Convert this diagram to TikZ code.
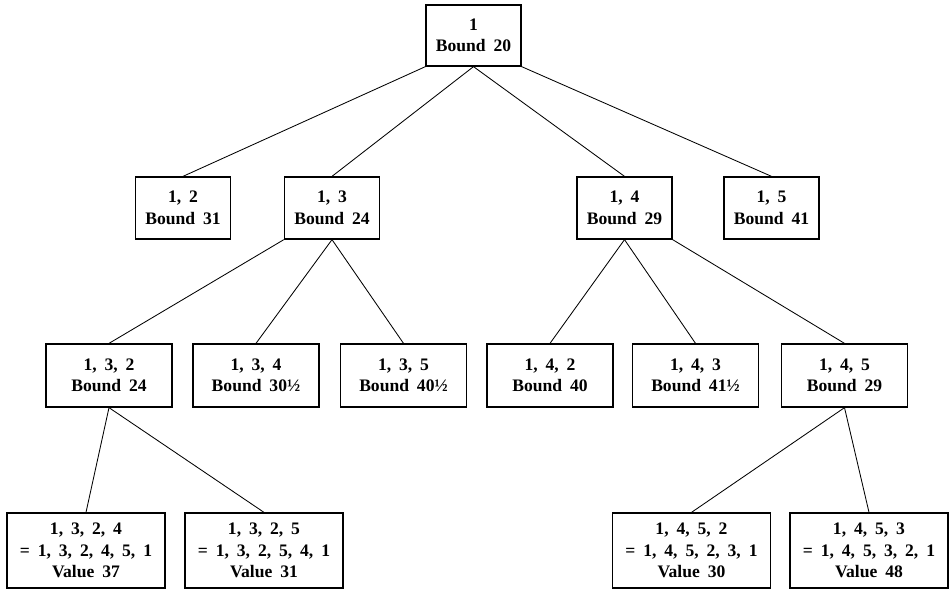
\documentclass[tikz,border=0pt]{standalone}
\usepackage{fontspec}
\setmainfont{Liberation Serif}
\usepackage{tikz}
\usetikzlibrary{positioning}
\newcommand{\boxfont}{\bfseries\fontsize{12.5}{15.3}\selectfont\spaceskip=0.45em\relax}
\tikzset{
  bbox/.style={rectangle, draw=black, line width=0.9pt, inner sep=0pt, align=center,
    font=\boxfont},
  topbox/.style={bbox, minimum width=2.375cm, minimum height=1.525cm},
  midbox/.style={bbox, minimum width=2.375cm, minimum height=1.55cm},
  lowbox/.style={bbox, minimum width=3.15cm, minimum height=1.575cm},
  leafbox/.style={bbox, minimum width=3.95cm, minimum height=1.875cm},
  link/.style={line width=0.6pt}
}
\begin{document}
\begin{tikzpicture}[x=0.025cm, y=-0.025cm]
    \useasboundingbox (0,0) rectangle (952,591);

    % raiz
    \node[topbox] (r) at (473.5, 35.5) {1\\Bound 20};

    % primer nivel
    \node[midbox] (n12) at (183, 208) {1, 2\\Bound 31};
    \node[midbox] (n13) at (332, 208) {1, 3\\Bound 24};
    \node[midbox] (n14) at (624.5, 208) {1, 4\\Bound 29};
    \node[midbox] (n15) at (771.5, 208) {1, 5\\Bound 41};

    % segundo nivel
    \node[lowbox] (n132) at (109, 375.5) {1, 3, 2\\Bound 24};
    \node[lowbox] (n134) at (256, 375.5) {1, 3, 4\\Bound 30½};
    \node[lowbox] (n135) at (403.5, 375.5) {1, 3, 5\\Bound 40½};
    \node[lowbox] (n142) at (550, 375.5) {1, 4, 2\\Bound 40};
    \node[lowbox] (n143) at (695.5, 375.5) {1, 4, 3\\Bound 41½};
    \node[lowbox] (n145) at (844.5, 375.5) {1, 4, 5\\Bound 29};

    % hojas
    \node[leafbox] (n1324) at (86, 550.5) {1, 3, 2, 4\\= 1, 3, 2, 4, 5, 1\\Value 37};
    \node[leafbox] (n1325) at (264, 550.5) {1, 3, 2, 5\\= 1, 3, 2, 5, 4, 1\\Value 31};
    \node[leafbox] (n1452) at (691.5, 550.5) {1, 4, 5, 2\\= 1, 4, 5, 2, 3, 1\\Value 30};
    \node[leafbox] (n1453) at (869, 550.5) {1, 4, 5, 3\\= 1, 4, 5, 3, 2, 1\\Value 48};

    % aristas
    \draw[link] (r.south west) -- (n12.north);
    \draw[link] (r.south) -- (n13.north);
    \draw[link] (r.south) -- (n14.north);
    \draw[link] (r.south east) -- (n15.north);

    \draw[link] (n13.south west) -- (n132.north);
    \draw[link] (n13.south) -- (n134.north);
    \draw[link] (n13.south) -- (n135.north);
    \draw[link] (n14.south) -- (n142.north);
    \draw[link] (n14.south) -- (n143.north);
    \draw[link] (n14.south east) -- (n145.north);

    \draw[link] (n132.south) -- (n1324.north);
    \draw[link] (n132.south) -- (n1325.north);
    \draw[link] (n145.south) -- (n1452.north);
    \draw[link] (n145.south) -- (n1453.north);
\end{tikzpicture}
\end{document}
